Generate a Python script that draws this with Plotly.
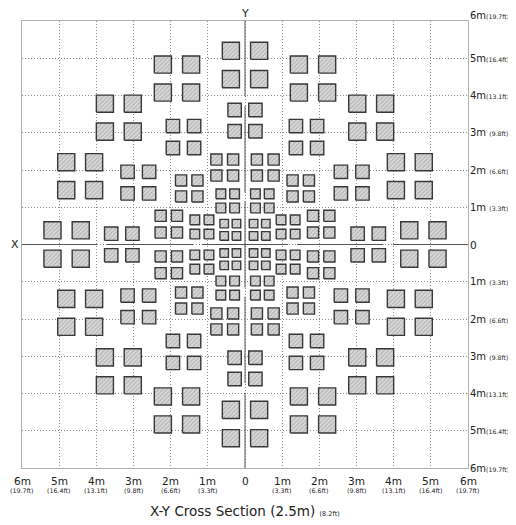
import plotly.graph_objects as go

# Squares of the upper-left quadrant (metres): centre x, centre y, side length.
# The layout is four-fold symmetric; the other quadrants are mirror images.
sq_x = [
    -0.38, -0.38,
    -2.21, -1.45, -2.21, -1.45,
    -3.77, -3.02, -3.77, -3.02,
    -4.81, -4.06, -4.81, -4.06,
    -5.18, -4.42,
    -0.28, -0.28,
    -1.94, -1.37, -1.94, -1.37,
    -3.16, -2.58, -3.16, -2.58,
    -3.60, -3.03,
    -0.77, -0.32, -0.77, -0.32,
    -1.72, -1.28, -1.72, -1.28,
    -2.27, -1.83, -2.27, -1.83,
    -0.65, -0.28, -0.65, -0.28,
    -1.35, -0.97, -1.35, -0.97,
    -0.56, -0.23, -0.56, -0.23,
]
sq_y = [
    5.20, 4.44,
    4.83, 4.83, 4.08, 4.08,
    3.78, 3.78, 3.03, 3.03,
    2.21, 2.21, 1.46, 1.46,
    0.38, 0.38,
    3.61, 3.04,
    3.18, 3.18, 2.59, 2.59,
    1.95, 1.95, 1.37, 1.37,
    0.29, 0.29,
    2.28, 2.28, 1.85, 1.85,
    1.72, 1.72, 1.29, 1.29,
    0.77, 0.77, 0.32, 0.32,
    1.36, 1.36, 0.98, 0.98,
    0.66, 0.66, 0.28, 0.28,
    0.56, 0.56, 0.23, 0.23,
]
sq_side = [0.46] * 16 + [0.36] * 12 + [0.30] * 12 + [0.26] * 8 + [0.23] * 4

tick_m = [1, 2, 3, 4, 5, 6]
tick_ft = ["3.3", "6.6", "9.8", "13.1", "16.4", "19.7"]
axis_gaps = [(1.16, 1.40), (3.72, 3.98)]
title_text = "X-Y Cross Section (2.5m)"
title_ft = "(8.2ft)"

FONT = "DejaVu Sans"
TXT = "#222222"

# Build square outlines
px, py = [], []
for sx in (1, -1):
    for sy in (1, -1):
        for x, y, s in zip(sq_x, sq_y, sq_side):
            cx, cy, h = sx * x, sy * y, s / 2
            px += [cx - h, cx + h, cx + h, cx - h, cx - h, None]
            py += [cy - h, cy - h, cy + h, cy + h, cy - h, None]

fig = go.Figure()
fig.add_trace(go.Scatter(
    x=px, y=py, mode="lines", fill="toself",
    line=dict(color="#383838", width=1.4),
    fillcolor="#d0d0d0",
    fillpattern=dict(shape="/", bgcolor="#d9d9d9", fgcolor="#858585",
                     size=3, solidity=0.35),
    hoverinfo="skip", showlegend=False,
))

# Axis lines with small gaps
def segments(lo, hi, gaps):
    cuts = []
    for a, b in gaps:
        cuts += [(-b, -a), (a, b)]
    cuts.sort()
    segs, start = [], lo
    for a, b in cuts:
        segs.append((start, a))
        start = b
    segs.append((start, hi))
    return segs

shapes = []
for a, b in segments(-6, 6, axis_gaps):
    shapes.append(dict(type="line", x0=a, x1=b, y0=0, y1=0, xref="x", yref="y",
                       line=dict(color="#555555", width=1)))
    shapes.append(dict(type="line", y0=a, y1=b, x0=0, x1=0, xref="x", yref="y",
                       line=dict(color="#555555", width=1)))

annotations = []
# right side labels
for m, ft in zip(tick_m, tick_ft):
    sep = " " if len(ft) == 3 else ""
    txt = f"{m}m{sep}<span style='font-size:6.2px'>({ft}ft)</span>"
    for v in (m, -m):
        annotations.append(dict(x=1, xref="paper", xanchor="left", xshift=0,
                                y=v, yref="y", yanchor="middle",
                                yshift=6 if v == 6 else 0,
                                text=txt, showarrow=False,
                                font=dict(family=FONT, size=10, color=TXT)))
annotations.append(dict(x=1, xref="paper", xanchor="left", xshift=0, y=0, yref="y",
                        text="0", showarrow=False,
                        font=dict(family=FONT, size=10.5, color=TXT)))
# bottom labels
for m, ft in zip(tick_m, tick_ft):
    for v in (m, -m):
        annotations.append(dict(x=v, xref="x", y=0, yref="paper", yanchor="top",
                                yshift=-5, text=f"{m}m", showarrow=False,
                                font=dict(family=FONT, size=10.5, color=TXT)))
        annotations.append(dict(x=v, xref="x", y=0, yref="paper", yanchor="top",
                                yshift=-17, text=f"({ft}ft)", showarrow=False,
                                font=dict(family=FONT, size=6.3, color=TXT)))
annotations.append(dict(x=0, xref="x", y=0, yref="paper", yanchor="top",
                        yshift=-5, text="0", showarrow=False,
                        font=dict(family=FONT, size=10.5, color=TXT)))
# axis names
annotations.append(dict(x=0, xref="paper", xanchor="right", xshift=-1, y=0, yref="y",
                        text="X", showarrow=False,
                        font=dict(family=FONT, size=11, color=TXT)))
annotations.append(dict(x=0, xref="x", y=1, yref="paper", yanchor="bottom",
                        yshift=-1, text="Y", showarrow=False,
                        font=dict(family=FONT, size=11, color=TXT)))
# title
annotations.append(dict(x=0.5, xref="paper", y=0, yref="paper", yanchor="middle",
                        yshift=-43,
                        text=f"{title_text} <span style='font-size:6.5px'>{title_ft}</span>",
                        showarrow=False,
                        font=dict(family=FONT, size=13.5, color=TXT)))

axis_common = dict(range=[-6, 6], dtick=1, tick0=0, showticklabels=False, ticks="",
                   showgrid=True, gridcolor="#8c8c8c", gridwidth=1, griddash="1px,2px",
                   zeroline=False, showline=True, mirror=True, linecolor="#b0b0b0",
                   linewidth=1, fixedrange=True)

# page body has an 8px margin, so the figure is sized and placed to compensate
fig.update_layout(
    width=508, height=517,
    margin=dict(l=14, r=48, t=13, b=57),
    paper_bgcolor="white", plot_bgcolor="white",
    xaxis=axis_common, yaxis=axis_common,
    shapes=shapes, annotations=annotations,
    showlegend=False,
)

fig.write_html("out.html")
